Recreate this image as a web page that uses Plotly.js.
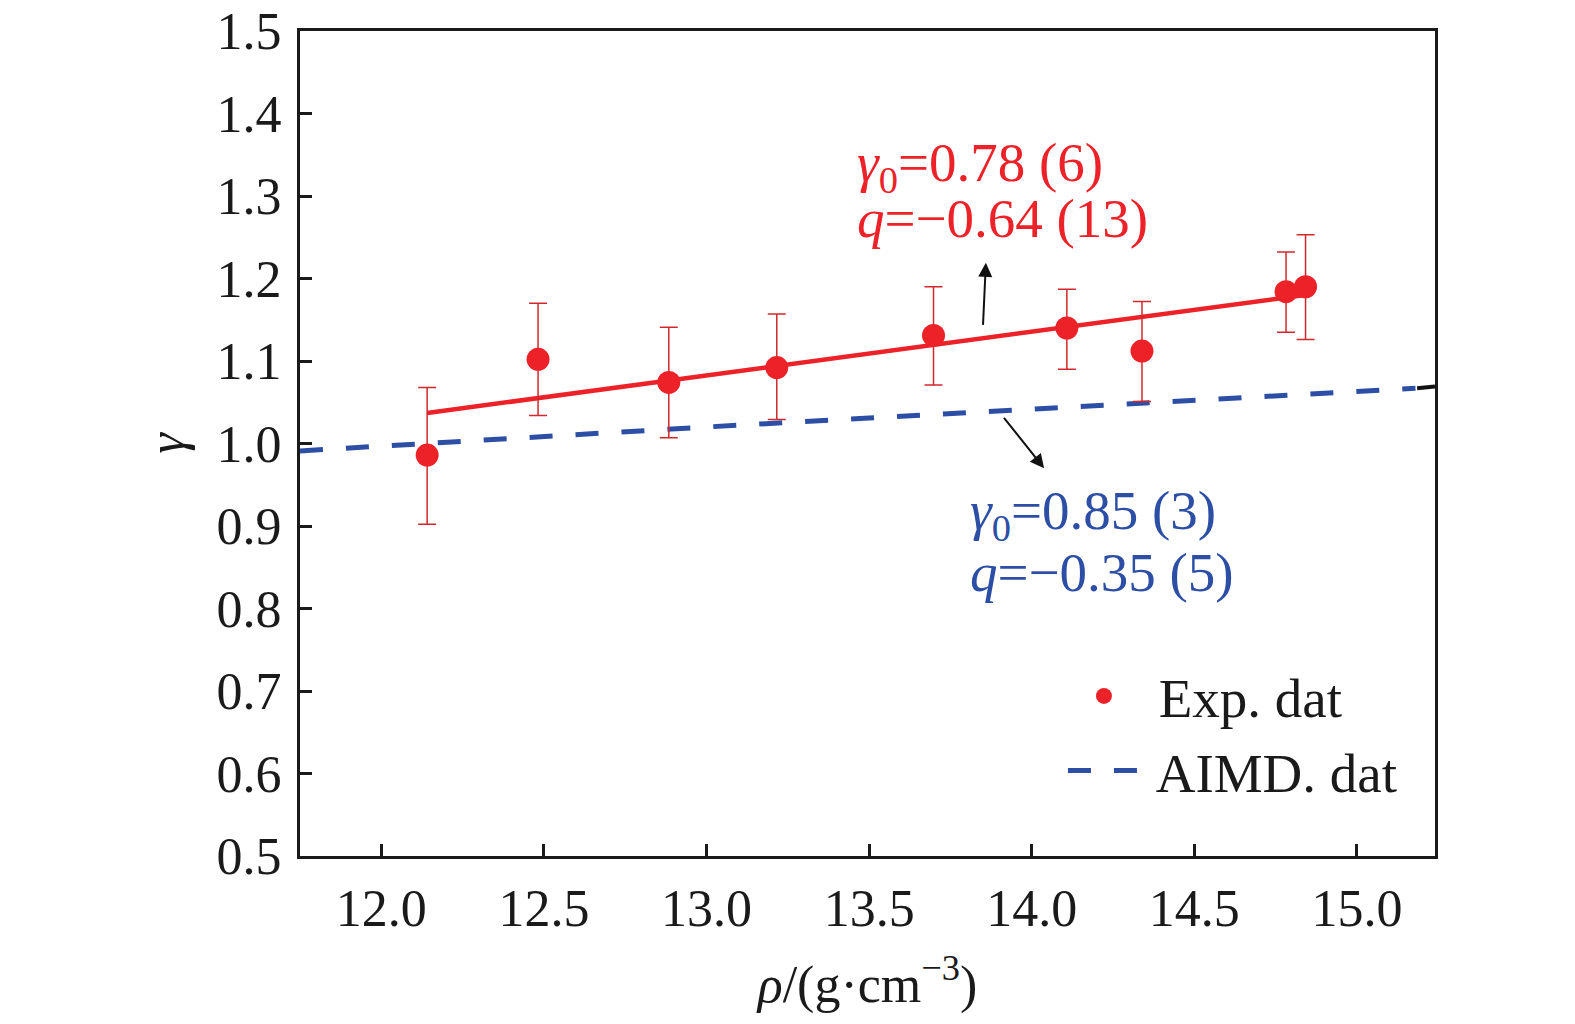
<!DOCTYPE html>
<html>
<head>
<meta charset="utf-8">
<script src="https://cdn.plot.ly/plotly-3.0.1.min.js"></script>
<style>html,body{margin:0;padding:0;background:#fff;}#chart{width:1575px;height:1024px;}</style>
</head>
<body>
<div id="chart"></div>
<script>
// Experimental data
const rho = [12.141, 12.482, 12.884, 13.216, 13.698, 14.108, 14.339, 14.782, 14.842];
const gammaExp = [0.986, 1.102, 1.074, 1.092, 1.131, 1.140, 1.112, 1.184, 1.190];
const errPlus = [0.082, 0.068, 0.067, 0.065, 0.059, 0.047, 0.060, 0.048, 0.063];
const errMinus = [0.084, 0.068, 0.067, 0.063, 0.060, 0.050, 0.061, 0.049, 0.064];

// Fit to experimental data
const fitRho = [12.141, 12.5, 13.0, 13.5, 14.0, 14.5, 14.84];
const fitGamma = [1.037, 1.056, 1.083, 1.110, 1.136, 1.162, 1.180];

// AIMD fit
const aimdRho = [11.75, 12.5, 13.0, 13.5, 14.0, 14.5, 15.18];
const aimdGamma = [0.991, 1.009, 1.020, 1.031, 1.042, 1.053, 1.067];
const aimdTailRho = [15.185, 15.24];
const aimdTailGamma = [1.067, 1.069];

// Ticks
const xTicks = [12.0, 12.5, 13.0, 13.5, 14.0, 14.5, 15.0];
const xTickText = ['12.0', '12.5', '13.0', '13.5', '14.0', '14.5', '15.0'];
const yTicks = [0.5, 0.6, 0.7, 0.8, 0.9, 1.0, 1.1, 1.2, 1.3, 1.4, 1.5];
const yTickText = ['0.5', '0.6', '0.7', '0.8', '0.9', '1.0', '1.1', '1.2', '1.3', '1.4', '1.5'];

const RED = '#ec2228';
const BLUE = '#2c4ea4';
const FONT = 'Liberation Serif, Times New Roman, serif';

const traces = [
  {
    x: fitRho, y: fitGamma, mode: 'lines', showlegend: false,
    line: {color: RED, width: 4.5}, hoverinfo: 'skip'
  },
  {
    x: aimdRho, y: aimdGamma, mode: 'lines', name: 'AIMD. dat',
    line: {color: BLUE, width: 5, dash: '23px,23px'}, showlegend: false
  },
  {
    x: aimdTailRho, y: aimdTailGamma, mode: 'lines', showlegend: false,
    line: {color: '#111', width: 4}
  },
  {
    x: rho, y: gammaExp, mode: 'markers', name: ' Exp. dat',
    marker: {color: RED, size: 23},
    error_y: {type: 'data', symmetric: false, array: errPlus, arrayminus: errMinus,
              color: '#d2282d', thickness: 1.5, width: 9}
  },
  {
    x: [null], y: [null], mode: 'lines', name: ' AIMD. dat',
    line: {color: BLUE, width: 5, dash: '23px,23px'}
  }
];

const annFont = (c) => ({family: FONT, size: 55, color: c});

const layout = {
  width: 1575, height: 1024,
  margin: {l: 300, r: 140, t: 31, b: 168},
  paper_bgcolor: '#fff', plot_bgcolor: '#fff',
  font: {family: FONT, color: '#1a1a1a'},
  xaxis: {
    range: [11.75, 15.24],
    tickvals: xTicks, ticktext: xTickText,
    ticks: 'inside', ticklen: 12, tickwidth: 3, tickcolor: '#1a1a1a',
    showline: true, linewidth: 3, linecolor: '#1a1a1a', mirror: true,
    showgrid: false, zeroline: false,
    tickfont: {family: FONT, size: 52, color: '#1a1a1a'},
    ticklabelstandoff: 5,
    title: {text: '<i>ρ</i>/(g·cm<sup>−3</sup>)', font: {family: FONT, size: 52, color: '#1a1a1a'}, standoff: 30}
  },
  yaxis: {
    range: [0.5, 1.5],
    tickvals: yTicks, ticktext: yTickText,
    ticks: 'inside', ticklen: 12, tickwidth: 3, tickcolor: '#1a1a1a',
    showline: true, linewidth: 3, linecolor: '#1a1a1a', mirror: true,
    showgrid: false, zeroline: false,
    tickfont: {family: FONT, size: 52, color: '#1a1a1a'},
    ticklabelstandoff: 5,
    title: {text: '<i>γ</i>', font: {family: FONT, size: 52, color: '#1a1a1a'}, standoff: 16}
  },
  legend: {
    x: 0.6722, y: 0.2453, xanchor: 'left', yanchor: 'top',
    bgcolor: 'rgba(0,0,0,0)', borderwidth: 0,
    font: {family: FONT, size: 55, color: '#1a1a1a'},
    itemwidth: 72, tracegroupgap: 0
  },
  annotations: [
    {x: 13.457, y: 1.336, xref: 'x', yref: 'y', xanchor: 'left', yanchor: 'middle', showarrow: false,
     text: '<i>γ</i><sub>0</sub>=0.78 (6)', font: annFont(RED)},
    {x: 13.457, y: 1.273, xref: 'x', yref: 'y', xanchor: 'left', yanchor: 'middle', showarrow: false,
     text: '<i>q</i>=−0.64 (13)', font: annFont(RED)},
    {x: 13.805, y: 0.914, xref: 'x', yref: 'y', xanchor: 'left', yanchor: 'middle', showarrow: false,
     text: '<i>γ</i><sub>0</sub>=0.85 (3)', font: annFont(BLUE)},
    {x: 13.805, y: 0.844, xref: 'x', yref: 'y', xanchor: 'left', yanchor: 'middle', showarrow: false,
     text: '<i>q</i>=−0.35 (5)', font: annFont(BLUE)},
    {x: 13.859, y: 1.219, ax: 13.850, ay: 1.142, xref: 'x', yref: 'y', axref: 'x', ayref: 'y',
     text: '', showarrow: true, arrowhead: 2, arrowsize: 1.4, arrowwidth: 2, arrowcolor: '#111'},
    {x: 14.038, y: 0.970, ax: 13.911, ay: 1.033, xref: 'x', yref: 'y', axref: 'x', ayref: 'y',
     text: '', showarrow: true, arrowhead: 2, arrowsize: 1.4, arrowwidth: 2, arrowcolor: '#111'}
  ]
};

Plotly.newPlot('chart', traces, layout, {displayModeBar: false, staticPlot: true});
</script>
</body>
</html>
